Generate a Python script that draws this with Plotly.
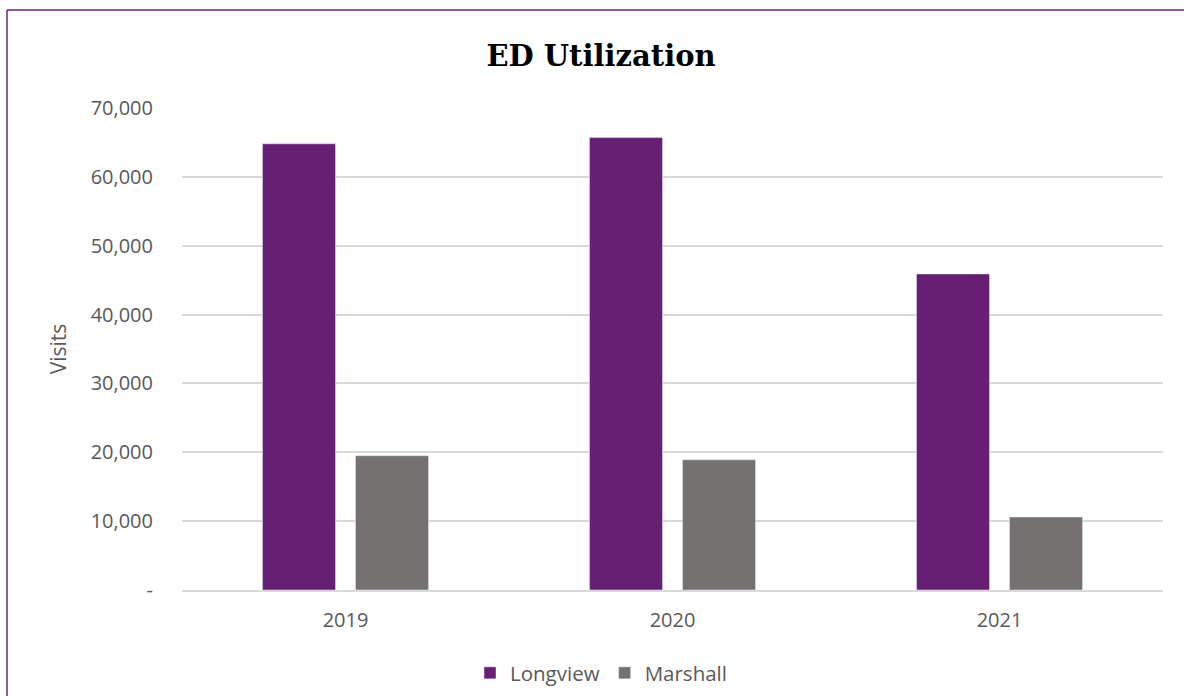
import plotly.graph_objects as go

years = ["2019", "2020", "2021"]
longview = [64800, 65700, 45900]
marshall = [19500, 18900, 10600]
tick_vals = [0, 10000, 20000, 30000, 40000, 50000, 60000, 70000]
tick_text = ["-", "10,000", "20,000", "30,000", "40,000", "50,000", "60,000", "70,000"]

W, H = 1184, 696
L, R, T, B = 182, 21, 108, 106
PW, PH = W - L - R, H - T - B


def px_x(x):
    return (x - L) / PW


def px_y(y):
    return (H - B - y) / PH


fig = go.Figure()
fig.add_trace(go.Bar(x=years, y=longview, name="Longview", marker_color="#671F73"))
fig.add_trace(go.Bar(x=years, y=marshall, name="Marshall", marker_color="#767171"))

# purple frame (top and left edges visible)
fig.add_shape(type="line", xref="paper", yref="paper",
              x0=px_x(7), x1=px_x(1184), y0=px_y(10), y1=px_y(10),
              line=dict(color="#6A2279", width=1.5))
fig.add_shape(type="line", xref="paper", yref="paper",
              x0=px_x(7), x1=px_x(7), y0=px_y(10), y1=px_y(696),
              line=dict(color="#6A2279", width=1.5))

fig.update_layout(
    width=W, height=H,
    margin=dict(l=L, r=R, t=T, b=B),
    paper_bgcolor="white", plot_bgcolor="white",
    font=dict(family="Open Sans", color="#595959", size=20),
    title=dict(text="<b>ED Utilization</b>", x=601 / W, xanchor="center", y=1 - 56 / H,
               yanchor="middle",
               font=dict(family="DejaVu Serif", size=29, color="#000000")),
    barmode="group", bargap=0.431, bargroupgap=0.215,
    xaxis=dict(showgrid=False, showline=True, linecolor="#d9d9d9", linewidth=1.5,
               ticks="outside", ticklen=11, tickcolor="rgba(0,0,0,0)", tickfont=dict(size=20)),
    yaxis=dict(range=[0, 70000], tickvals=tick_vals, ticktext=tick_text,
               showgrid=True, gridcolor="#d9d9d9", gridwidth=1.5, zeroline=False,
               ticks="outside", ticklen=24, tickcolor="rgba(0,0,0,0)", tickfont=dict(size=20),
               title=dict(text="Visits", font=dict(size=21), standoff=18)),
    legend=dict(orientation="h", x=px_x(601), xanchor="center",
                yref="container", y=1 - 673 / H, yanchor="middle",
                font=dict(size=20.5), itemwidth=30, traceorder="normal"),
)

fig.write_html("out.html", config={"displayModeBar": False},
               post_script="document.body.style.margin='0px';")
